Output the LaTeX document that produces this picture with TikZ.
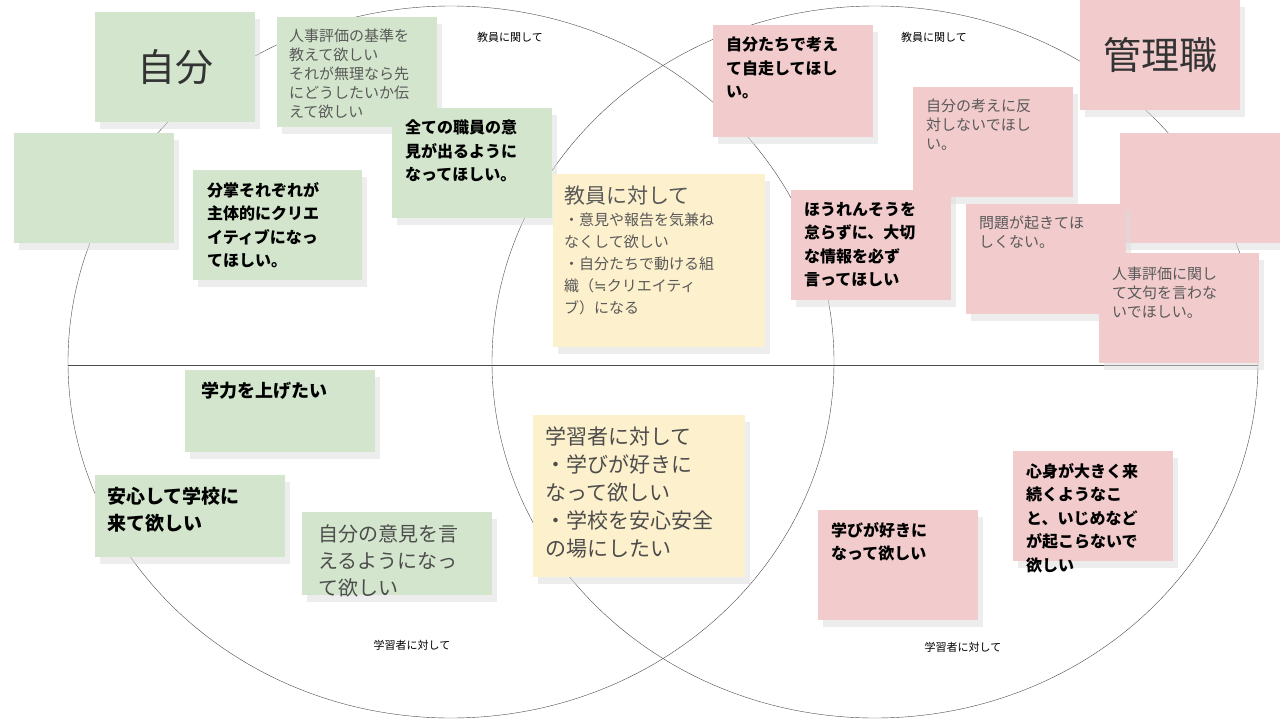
\documentclass[tikz,border=0pt]{standalone}
\usepackage{fontspec}
\setmainfont{Noto Sans CJK JP}
\newfontfamily\symfont{DejaVu Sans}
\usetikzlibrary{shadows}
\definecolor{noteg}{HTML}{D3E6CD}
\definecolor{notep}{HTML}{F2CBCC}
\definecolor{notey}{HTML}{FDF0CC}
\newcommand{\stick}[3]{\parbox[t][#2pt][t]{#1pt}{#3}}
\begin{document}
\begin{tikzpicture}[x=1pt,y=-1pt,
    note/.style={anchor=north west,inner xsep=16pt,inner ysep=12pt,
                 drop shadow={shadow xshift=5pt,shadow yshift=-7pt,fill=black!14}},
    gnote/.style={note,fill=noteg},
    pnote/.style={note,fill=notep},
    ynote/.style={note,fill=notey},
    blank/.style={anchor=north west,minimum width=160pt,minimum height=110pt,
                 drop shadow={shadow xshift=5pt,shadow yshift=-7pt,fill=black!14}},
    bold/.style={font=\fontsize{16}{23.5}\selectfont\bfseries},
    light/.style={font=\fontsize{15}{19}\selectfont,text=black!65},
    big/.style={font=\fontsize{20}{27}\selectfont,text=black!70},
    title/.style={anchor=north west,minimum width=160pt,minimum height=110pt,
                  font=\fontsize{38}{40}\selectfont,text=black!80},
    tag/.style={font=\fontsize{11}{13}\selectfont}]
  \useasboundingbox (0,0) rectangle (1280,720);
  % two circles and the divider
  \draw[black!70,thin] (451,362) ellipse [x radius=383,y radius=356];
  \draw[black!70,thin] (875,362) ellipse [x radius=383,y radius=356];
  \coordinate (lft) at (68,365);
  \coordinate (rgt) at (1258,365);
  \draw[black!70,thin] (lft) -- (rgt);

  \node[tag] (t1) at (510,37) {教員に関して};
  \node[tag] (t2) at (934,37) {教員に関して};
  \node[tag] (t3) at (412,645) {学習者に対して};
  \node[tag] (t4) at (963,647) {学習者に対して};

  % left circle
  \node[title,fill=noteg,drop shadow={shadow xshift=5pt,shadow yshift=-7pt,fill=black!14}]
       (self) at (95,12) {自分};
  \node[gnote,light,inner xsep=12pt] (hyoka) at (277,17) {\stick{136}{86}{人事評価の基準を\\教えて欲しい\\それが無理なら先\\にどうしたいか伝\\えて欲しい}};
  \node[blank,fill=noteg] (blankg) at (14,133) {};
  \node[gnote,bold,inner xsep=14pt] (bunsho) at (193,170) {\stick{141}{86}{分掌それぞれが\\主体的にクリエ\\イティブになっ\\てほしい。}};
  \node[gnote,bold,inner xsep=13pt] (iken) at (392,108) {\stick{134}{86}{全ての職員の意\\見が出るように\\なってほしい。}};
  \node[gnote,bold,font=\fontsize{18}{24}\selectfont\bfseries] (gakuryoku) at (185,370) {\stick{158}{58}{学力を上げたい}};
  \node[gnote,bold,font=\fontsize{19}{27}\selectfont\bfseries,inner xsep=12pt] (anshin) at (95,475) {\stick{166}{58}{安心して学校に\\来て欲しい}};
  \node[gnote,big] (jibun) at (302,512) {\stick{158}{59}{自分の意見を言\\えるようになっ\\て欲しい}};

  % overlap
  \node[ynote,light,font=\fontsize{15}{22}\selectfont,inner xsep=11pt] (kyoin) at (553,174) {\stick{190}{149}{{\fontsize{21}{26}\selectfont 教員に対して}\\・意見や報告を気兼ね\\なくして欲しい\\・自分たちで動ける組\\織（{\symfont ≒}クリエイティ\\ブ）になる}};
  \node[ynote,big,font=\fontsize{21}{28}\selectfont,inner xsep=12pt] (gakushu) at (533,415) {\stick{188}{138}{学習者に対して\\・学びが好きに\\なって欲しい\\・学校を安心安全\\の場にしたい}};

  % right circle
  \node[pnote,bold,inner xsep=13pt] (jisou) at (713,25) {\stick{134}{88}{自分たちで考え\\て自走してほし\\い。}};
  \node[title,fill=notep,drop shadow={shadow xshift=5pt,shadow yshift=-7pt,fill=black!14}]
       (kanri) at (1080,0) {管理職};
  \node[pnote,light,inner xsep=13pt] (hantai) at (913,87) {\stick{134}{86}{自分の考えに反\\対しないでほし\\い。}};
  \node[blank,fill=notep] (blankp) at (1120,133) {};
  \node[pnote,bold,inner xsep=13pt] (horenso) at (791,190) {\stick{134}{86}{ほうれんそうを\\怠らずに、大切\\な情報を必ず\\言ってほしい}};
  \node[pnote,light,inner xsep=13pt] (mondai) at (966,204) {\stick{134}{86}{問題が起きてほ\\しくない。}};
  \node[pnote,light,inner xsep=13pt,inner ysep=14pt] (monku) at (1099,253) {\stick{134}{82}{人事評価に関し\\て文句を言わな\\いでほしい。}};
  \node[pnote,bold,inner xsep=13pt] (manabi) at (818,510) {\stick{134}{86}{学びが好きに\\なって欲しい}};
  \node[pnote,bold,inner xsep=13pt] (shinshin) at (1013,451) {\stick{134}{86}{心身が大きく来\\続くようなこ\\と、いじめなど\\が起こらないで\\欲しい}};
\end{tikzpicture}
\end{document}
